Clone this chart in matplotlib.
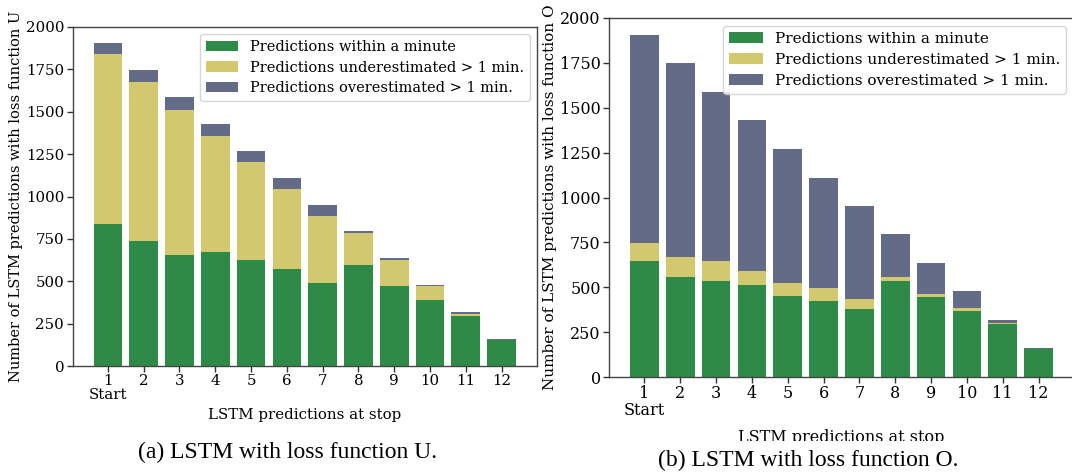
import matplotlib
matplotlib.use("Agg")
import matplotlib.pyplot as plt
from matplotlib.transforms import Bbox, TransformedBbox

# --- Data ---
stops = [1, 2, 3, 4, 5, 6, 7, 8, 9, 10, 11, 12]
stop_labels = ["1\nStart", "2", "3", "4", "5", "6", "7", "8", "9", "10", "11", "12"]

# loss function U
u_within = [837, 737, 654, 672, 625, 571, 489, 595, 471, 388, 294, 156]
u_under = [1005, 940, 857, 686, 579, 473, 396, 189, 154, 83, 15, 0]
u_over = [65, 71, 77, 71, 65, 65, 65, 12, 11, 6, 8, 2]

# loss function O
o_within = [646, 557, 534, 512, 451, 423, 378, 534, 445, 367, 295, 156]
o_under = [100, 111, 112, 78, 72, 72, 56, 23, 17, 17, 6, 0]
o_over = [1161, 1080, 942, 839, 746, 614, 516, 239, 174, 93, 16, 3]

legend_labels = ["Predictions within a minute",
                 "Predictions underestimated > 1 min.",
                 "Predictions overestimated > 1 min."]
green = "#2e8a47"
yellow = "#d2c870"
slate = "#636b87"

plt.rcParams['font.family'] = ['DejaVu Serif']

W, H = 1072, 474
fig = plt.figure(figsize=(W / 100, H / 100), dpi=100)


def stacked(ax, within, under, over, letter, fs, ylab_fs, leg_fs, xpad):
    bottom2 = [a + b for a, b in zip(within, under)]
    ax.bar(stops, within, color=green, width=0.8, label=legend_labels[0])
    ax.bar(stops, under, bottom=within, color=yellow, width=0.8, label=legend_labels[1])
    ax.bar(stops, over, bottom=bottom2, color=slate, width=0.8, label=legend_labels[2])
    ax.set_ylim(0, 2000)
    ax.set_xticks(stops)
    ax.set_xticklabels(stop_labels, fontsize=fs, linespacing=1.0)
    ax.tick_params(axis='y', labelsize=fs)
    ax.tick_params(length=4, width=1, pad=2, color="#333333")
    for s in ax.spines.values():
        s.set_color("#444444")
        s.set_linewidth(1.0)
    ax.set_xlabel("LSTM predictions at stop", fontsize=fs, labelpad=xpad)
    ax.set_ylabel("Number of LSTM predictions with loss function " + letter,
                  fontsize=ylab_fs, labelpad=2)
    ax.legend(loc="upper right", fontsize=leg_fs, handlelength=2.2,
              borderaxespad=0.5, labelspacing=0.45)


ax1 = fig.add_axes([72.5 / W, (H - 366) / H, 464.5 / W, 339 / H])
stacked(ax1, u_within, u_under, u_over, "U", 10.8, 10.5, 10.5, 4)

ax2 = fig.add_axes([609 / W, (H - 377) / H, 465 / W, 359 / H])
stacked(ax2, o_within, o_under, o_over, "O", 11.5, 11.0, 11.0, 7)

# the right panel's x label runs under its caption and gets cut off
lab = ax2.xaxis.label
lab.set_clip_box(TransformedBbox(Bbox([[0.5, 33 / H], [1, 1]]), fig.transFigure))
lab.set_clip_on(True)

fig.text(287 / W, 1 - 452 / H, "(a) LSTM with loss function U.",
         ha="center", va="center", fontsize=17, family="Liberation Serif")
fig.text(808 / W, 1 - 460 / H, "(b) LSTM with loss function O.",
         ha="center", va="center", fontsize=17, family="Liberation Serif")

fig.savefig("out.png", dpi=100)
